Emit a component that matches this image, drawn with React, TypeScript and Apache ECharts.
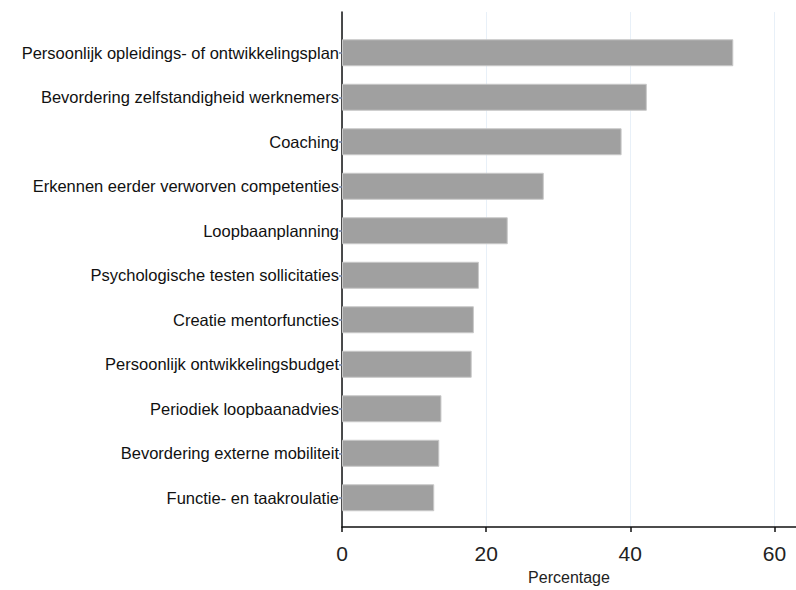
import React, { useEffect, useRef } from "react";
import * as echarts from "echarts";

const categories = [
  "Persoonlijk opleidings- of ontwikkelingsplan",
  "Bevordering zelfstandigheid werknemers",
  "Coaching",
  "Erkennen eerder verworven competenties",
  "Loopbaanplanning",
  "Psychologische testen sollicitaties",
  "Creatie mentorfuncties",
  "Persoonlijk ontwikkelingsbudget",
  "Periodiek loopbaanadvies",
  "Bevordering externe mobiliteit",
  "Functie- en taakroulatie",
];
const values = [54.3, 42.3, 38.8, 28.0, 23.0, 19.0, 18.3, 18.0, 13.8, 13.5, 12.8];
const xTicks = [0, 20, 40, 60];
const xName = "Percentage";

export default function App() {
  const ref = useRef<HTMLDivElement>(null);
  useEffect(() => {
    if (!ref.current) return;
    const chart = echarts.init(ref.current, null, { renderer: "svg" });
    const font = "Arial, 'Liberation Sans', sans-serif";
    chart.setOption({
      animation: false,
      backgroundColor: "#ffffff",
      grid: [
        { left: 342, right: 0, top: 12, height: 526, containLabel: false },
        { left: 342, right: 0, top: 30.5, height: 489.5, containLabel: false },
      ],
      xAxis: [
        {
          type: "value",
          gridIndex: 0,
          min: 0,
          max: 63,
          interval: 20,
          name: xName,
          nameLocation: "middle",
          nameGap: 40,
          nameTextStyle: { fontFamily: font, fontSize: 16, color: "#222" },
          axisLine: { show: true, lineStyle: { color: "#111", width: 1.5 } },
          axisTick: { show: true, length: 5, lineStyle: { color: "#111", width: 1.5 } },
          axisLabel: {
            fontFamily: font,
            fontSize: 21,
            color: "#222",
            margin: 16,
            showMaxLabel: false,
            formatter: (v: number) => (xTicks.includes(v) ? String(v) : ""),
          },
          splitLine: { show: true, lineStyle: { color: "#e8f0f8", width: 1 } },
        },
        {
          type: "value",
          gridIndex: 1,
          min: 0,
          max: 63,
          show: false,
          splitLine: { show: false },
        },
      ],
      yAxis: [
        {
          type: "value",
          gridIndex: 0,
          min: 0,
          max: 1,
          axisLine: { show: true, lineStyle: { color: "#111", width: 1.5 } },
          axisTick: { show: false },
          axisLabel: { show: false },
          splitLine: { show: false },
        },
        {
          type: "category",
          gridIndex: 1,
          data: categories,
          inverse: true,
          axisLine: { show: false },
          axisTick: { show: true, alignWithLabel: true, length: 3, lineStyle: { color: "#6f7fa0", width: 1.5 } },
          axisLabel: { fontFamily: font, fontSize: 16.5, color: "#111", margin: 3 },
          splitLine: { show: false },
        },
      ],
      series: [
        {
          type: "bar",
          xAxisIndex: 1,
          yAxisIndex: 1,
          data: values,
          barWidth: 27,
          itemStyle: { color: "#a0a0a0", borderColor: "#c8c8c8", borderWidth: 1 },
        },
      ],
    });
    return () => chart.dispose();
  }, []);
  return <div ref={ref} style={{ width: 796, height: 590, position: "absolute", left: 0, top: 0 }} />;
}
